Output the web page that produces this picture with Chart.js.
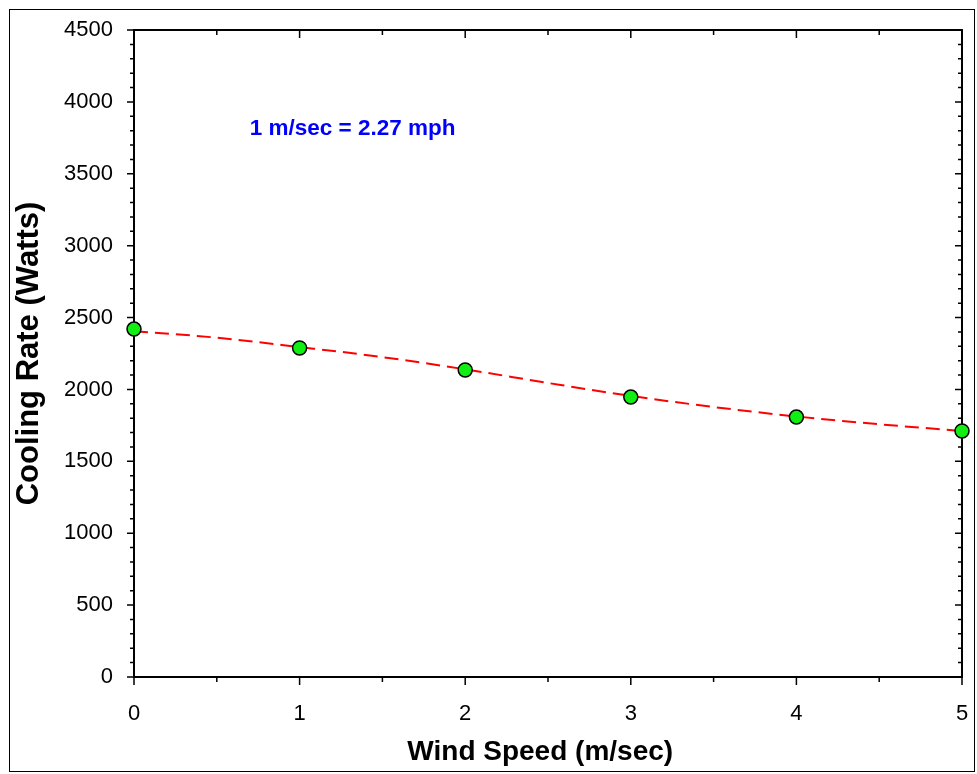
<!DOCTYPE html>
<html>
<head>
<meta charset="utf-8">
<script src="https://cdn.jsdelivr.net/npm/chart.js@4.4.1/dist/chart.umd.min.js"></script>
<style>
  body { margin: 0; background: #fff; }
  canvas { display: block; }
</style>
</head>
<body>
<canvas id="chart_cooling" width="977" height="774"></canvas>
<script>
// measured points
const windSpeed = [0, 1, 2, 3, 4, 5];
const coolingRate = [2420, 2288, 2135, 1947, 1808, 1711];

// dashed fit curve, every half step
const fitSpeed = [0, 0.5, 1, 1.5, 2, 2.5, 3, 3.5, 4, 4.5, 5];
const fitRate = [2405, 2360, 2295, 2225, 2140, 2045, 1955, 1878, 1812, 1758, 1711];

const yTicks = [0, 500, 1000, 1500, 2000, 2500, 3000, 3500, 4000, 4500];
const xTicks = [0, 1, 2, 3, 4, 5];
const noteText = '1 m/sec = 2.27 mph';

const FONT = '"Liberation Sans", Arial, sans-serif';

// outer frame, mirrored top/right axes and all tick marks
const frameAndTicks = {
    id: 'frameAndTicks',
    beforeDraw(chart) {
        const ctx = chart.ctx;
        ctx.save();
        ctx.fillStyle = '#fff';
        ctx.fillRect(0, 0, chart.width, chart.height);
        ctx.strokeStyle = '#000';
        ctx.lineWidth = 1;
        ctx.strokeRect(9.5, 9.5, 965, 762);
        ctx.restore();
    },
    beforeDatasetsDraw(chart) {
        const { ctx, chartArea: a, scales: { x, y } } = chart;
        ctx.save();
        ctx.strokeStyle = '#000';
        ctx.lineWidth = 2;
        ctx.beginPath();
        ctx.moveTo(a.left, a.top);
        ctx.lineTo(a.right, a.top);
        ctx.lineTo(a.right, a.bottom);
        ctx.stroke();

        ctx.lineWidth = 1.5;
        ctx.beginPath();
        for (let v = 0; v <= 4500; v += 100) {
            const py = y.getPixelForValue(v);
            const len = yTicks.includes(v) ? 7 : 4;
            ctx.moveTo(a.left - len, py);
            ctx.lineTo(a.left, py);
            ctx.moveTo(a.right, py);
            ctx.lineTo(a.right - len, py);
        }
        for (let v = 0; v <= 5; v += 0.5) {
            const px = x.getPixelForValue(v);
            const len = xTicks.includes(v) ? 8 : 5;
            ctx.moveTo(px, a.bottom);
            ctx.lineTo(px, a.bottom + len);
            ctx.moveTo(px, a.top);
            ctx.lineTo(px, a.top + len);
        }
        ctx.stroke();

        ctx.fillStyle = '#0000ff';
        ctx.font = 'bold 22.5px ' + FONT;
        ctx.textAlign = 'center';
        ctx.textBaseline = 'middle';
        ctx.fillText(noteText, x.getPixelForValue(1.32), y.getPixelForValue(3815));
        ctx.restore();
    }
};

new Chart(document.getElementById('chart_cooling'), {
    type: 'line',
    data: {
        datasets: [
            {
                label: 'Measured',
                data: windSpeed.map((s, i) => ({ x: s, y: coolingRate[i] })),
                showLine: false,
                pointRadius: 7,
                pointBackgroundColor: '#11ee11',
                pointBorderColor: '#000',
                pointBorderWidth: 1.5,
                clip: false,
                order: 0
            },
            {
                label: 'Fit',
                data: fitSpeed.map((s, i) => ({ x: s, y: fitRate[i] })),
                borderColor: '#ff0000',
                borderWidth: 2,
                borderDash: [14, 7],
                pointRadius: 0,
                cubicInterpolationMode: 'monotone',
                fill: false,
                order: 1
            }
        ]
    },
    options: {
        responsive: false,
        animation: false,
        events: [],
        layout: { autoPadding: false, padding: { top: 30, right: 15, left: 0, bottom: 0 } },
        plugins: { legend: { display: false }, tooltip: { enabled: false } },
        scales: {
            x: {
                type: 'linear',
                min: 0,
                max: 5,
                afterFit: s => { s.height = 97; s.paddingLeft = 0; s.paddingRight = 0; },
                afterBuildTicks: s => { s.ticks = xTicks.map(v => ({ value: v })); },
                ticks: { color: '#000', font: { family: FONT, size: 22 }, padding: 24, callback: v => String(v) },
                grid: { drawOnChartArea: false, drawTicks: false },
                border: { color: '#000', width: 2 },
                title: {
                    display: true,
                    text: 'Wind Speed (m/sec)  ',
                    color: '#000',
                    font: { family: FONT, size: 28, weight: 'bold' },
                    padding: { top: 0, bottom: 5 }
                }
            },
            y: {
                min: 0,
                max: 4500,
                afterFit: s => { s.width = 134; s.paddingTop = 0; s.paddingBottom = 0; },
                afterBuildTicks: s => { s.ticks = yTicks.map(v => ({ value: v })); },
                ticks: { color: '#000', font: { family: FONT, size: 22 }, padding: 21, callback: v => String(v) },
                grid: { drawOnChartArea: false, drawTicks: false },
                border: { color: '#000', width: 2 },
                title: {
                    display: true,
                    text: 'Cooling Rate (Watts)',
                    color: '#000',
                    font: { family: FONT, size: 31, weight: 'bold' },
                    padding: { top: 11, bottom: 0 }
                }
            }
        }
    },
    plugins: [frameAndTicks]
});
</script>
</body>
</html>
